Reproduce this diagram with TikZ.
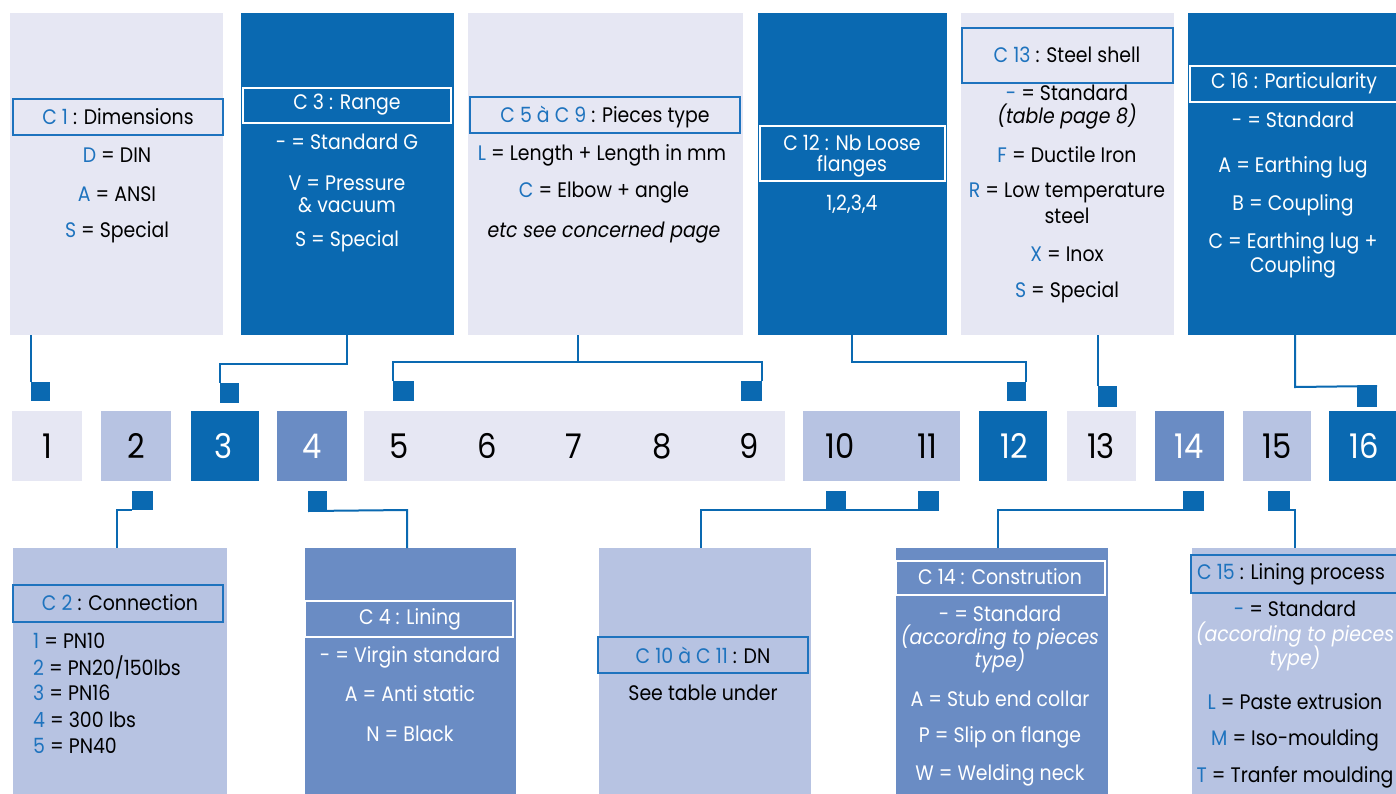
\documentclass[tikz,border=0pt]{standalone}
\usepackage{fontspec}
\setmainfont{Poppins}[FakeStretch=0.9]
\usetikzlibrary{calc}
\definecolor{lav}{HTML}{E6E7F3}
\definecolor{peri}{HTML}{B7C3E2}
\definecolor{mid}{HTML}{6A8CC4}
\definecolor{dark}{HTML}{0A69B1}
\definecolor{codeblue}{HTML}{1E73BE}
\newcommand{\cd}[1]{\textcolor{codeblue}{#1}}
\newcommand{\fs}{\fontsize{21}{23}\selectfont}
\newcommand{\fnum}{\fontsize{34}{36}\selectfont}
\tikzset{
  panel/.style={rectangle, inner sep=0pt, outer sep=0pt, anchor=north west, draw=none},
  ttl/.style={rectangle, inner sep=0pt, outer sep=0pt, anchor=north west, line width=2pt},
  tx/.style={inner sep=0pt, font=\fs, text=black},
  wtx/.style={inner sep=0pt, font=\fs, text=white},
  sq/.style={rectangle, fill=dark, inner sep=0pt, outer sep=0pt, anchor=north west},
  num/.style={inner sep=0pt, font=\fnum, text=black},
  wnum/.style={inner sep=0pt, font=\fnum, text=white},
  link/.style={draw=dark, line width=2pt},
}
\begin{document}
\begin{tikzpicture}[x=1pt,y=-1pt]
\useasboundingbox (0,0) rectangle (1396,793);
\clip (0,0) rectangle (1396,793);
\fill[white] (0,0) rectangle (1396,793);

% ---------- top panels ----------
\node[panel, fill=lav, minimum width=213, minimum height=322] (p1) at (10,13) {};
\node[ttl, draw=codeblue, minimum width=210, minimum height=36] (t1) at (13,99) {};
\node[tx] (t1x) at (118,117) {\cd{C 1} : Dimensions};
\node[tx] (p1a) at (117,155) {\cd{D} = DIN};
\node[tx] (p1b) at (117,194) {\cd{A} = ANSI};
\node[tx] (p1c) at (117,232) {\cd{S} = Special};

\node[panel, fill=dark, minimum width=213, minimum height=322] (p3) at (241,13) {};
\node[ttl, draw=white, minimum width=208, minimum height=35] (t3) at (243,88) {};
\node[wtx] (t3x) at (347,105) {C 3 : Range};
\node[wtx] (p3a) at (347,142) {- = Standard G};
\node[wtx] (p3b) at (347,183) {V = Pressure};
\node[wtx] (p3c) at (347,205) {\& vacuum};
\node[wtx] (p3d) at (347,241) {S = Special};

\node[panel, fill=lav, minimum width=275, minimum height=322] (p5) at (468,13) {};
\node[ttl, draw=codeblue, minimum width=270, minimum height=36] (t5) at (470,97) {};
\node[tx] (t5x) at (605,117) {\cd{C 5 à C 9} : Pieces type};
\node[tx] (p5a) at (602,155) {\cd{L} = Length + Length in mm};
\node[tx] (p5b) at (604,193) {\cd{C} = Elbow + angle};
\node[tx, font=\fs\itshape] (p5c) at (604,233) {etc see concerned page};

\node[panel, fill=dark, minimum width=189, minimum height=322] (p12) at (758,13) {};
\node[ttl, draw=white, minimum width=185, minimum height=55] (t12) at (760,126) {};
\node[wtx] (t12x) at (852,143) {C 12 : Nb Loose};
\node[wtx] (t12y) at (852,166) {flanges};
\node[wtx] (p12a) at (852,204) {1,2,3,4};

\node[panel, fill=lav, minimum width=213, minimum height=322] (p13) at (961,13) {};
\node[ttl, draw=codeblue, minimum width=211, minimum height=55] (t13) at (962,28) {};
\node[tx] (t13x) at (1067,55) {\cd{C 13} : Steel shell};
\node[tx] (p13a) at (1067,93) {\cd{-} = Standard};
\node[tx, font=\fs\itshape] (p13b) at (1067,117) {(table page 8)};
\node[tx] (p13c) at (1067,155) {\cd{F} = Ductile Iron};
\node[tx] (p13d) at (1067,193) {\cd{R} = Low temperature};
\node[tx] (p13e) at (1067,216) {steel};
\node[tx] (p13f) at (1067,254) {\cd{X} = Inox};
\node[tx] (p13g) at (1067,292) {\cd{S} = Special};

\node[panel, fill=dark, minimum width=215, minimum height=322] (p16) at (1188,13) {};
\node[ttl, draw=white, minimum width=215, minimum height=36] (t16) at (1190,66) {};
\node[wtx] (t16x) at (1294,83) {C 16 : Particularity};
\node[wtx] (p16a) at (1293,120) {- = Standard};
\node[wtx] (p16b) at (1293,167) {A = Earthing lug};
\node[wtx] (p16c) at (1293,205) {B = Coupling};
\node[wtx] (p16d) at (1293,243) {C = Earthing lug +};
\node[wtx] (p16e) at (1293,267) {Coupling};

% ---------- number row ----------
\node[panel, fill=lav,  minimum width=70,  minimum height=70] (b1)  at (12,411) {};
\node[panel, fill=peri, minimum width=70,  minimum height=70] (b2)  at (101,411) {};
\node[panel, fill=dark, minimum width=68,  minimum height=70] (b3)  at (191,411) {};
\node[panel, fill=mid,  minimum width=70,  minimum height=70] (b4)  at (277,411) {};
\node[panel, fill=lav,  minimum width=421, minimum height=70] (b5)  at (364,411) {};
\node[panel, fill=peri, minimum width=157, minimum height=70] (b10) at (803,411) {};
\node[panel, fill=dark, minimum width=68,  minimum height=70] (b12) at (979,411) {};
\node[panel, fill=lav,  minimum width=69,  minimum height=70] (b13) at (1067,411) {};
\node[panel, fill=mid,  minimum width=69,  minimum height=70] (b14) at (1155,411) {};
\node[panel, fill=peri, minimum width=68,  minimum height=70] (b15) at (1243,411) {};
\node[panel, fill=dark, minimum width=70,  minimum height=70] (b16) at (1329,411) {};

\node[num]  (n1)  at (47,446)   {1};
\node[num]  (n2)  at (136,446)  {2};
\node[wnum] (n3)  at (224,446)  {3};
\node[wnum] (n4)  at (312,446)  {4};
\node[num]  (n5)  at (399,446)  {5};
\node[num]  (n6)  at (487,446)  {6};
\node[num]  (n7)  at (574,446)  {7};
\node[num]  (n8)  at (662,446)  {8};
\node[num]  (n9)  at (749,446)  {9};
\node[num]  (n10) at (840,446)  {10};
\node[num]  (n11) at (927,446)  {11};
\node[wnum] (n12) at (1014,446) {12};
\node[num]  (n13) at (1101,446) {13};
\node[wnum] (n14) at (1189,446) {14};
\node[num]  (n15) at (1277,446) {15};
\node[wnum] (n16) at (1364,446) {16};

% ---------- squares ----------
\node[sq, minimum width=19, minimum height=19] (s1)  at (31,382) {};
\node[sq, minimum width=19, minimum height=20] (s3)  at (220,383) {};
\node[sq, minimum width=21, minimum height=20] (s5)  at (393,381) {};
\node[sq, minimum width=21, minimum height=20] (s9)  at (741,381) {};
\node[sq, minimum width=19, minimum height=19] (s12) at (1007,382) {};
\node[sq, minimum width=19, minimum height=21] (s13) at (1098,386) {};
\node[sq, minimum width=20, minimum height=21] (s16) at (1357,386) {};

\node[sq, minimum width=21, minimum height=19] (s2)  at (132,491) {};
\node[sq, minimum width=19, minimum height=20] (s4)  at (308,491) {};
\node[sq, minimum width=20, minimum height=19] (s10) at (826,491) {};
\node[sq, minimum width=21, minimum height=19] (s11) at (918,491) {};
\node[sq, minimum width=21, minimum height=19] (s14) at (1183,491) {};
\node[sq, minimum width=22, minimum height=19] (s15) at (1268,491) {};

% ---------- bottom panels ----------
\node[panel, fill=peri, minimum width=214, minimum height=260] (p2) at (13,548) {};
\node[ttl, draw=codeblue, minimum width=210, minimum height=37] (t2) at (13,585) {};
\node[tx] (t2x) at (120,603) {\cd{C 2} : Connection};
\node[tx, anchor=west] (p2a) at (33,641) {\cd{1} = PN10};
\node[tx, anchor=west] (p2b) at (33,667) {\cd{2} = PN20/150lbs};
\node[tx, anchor=west] (p2c) at (33,693) {\cd{3} = PN16};
\node[tx, anchor=west] (p2d) at (33,720) {\cd{4} = 300 lbs};
\node[tx, anchor=west] (p2e) at (33,746) {\cd{5} = PN40};

\node[panel, fill=mid, minimum width=211, minimum height=260] (p4) at (305,548) {};
\node[ttl, draw=white, minimum width=208, minimum height=36] (t4) at (305,601) {};
\node[wtx] (t4x) at (410,619) {C 4 : Lining};
\node[wtx] (p4a) at (410,657) {- = Virgin standard};
\node[wtx] (p4b) at (410,694) {A = Anti static};
\node[wtx] (p4c) at (410,734) {N = Black};

\node[panel, fill=peri, minimum width=212, minimum height=260] (p10) at (599,548) {};
\node[ttl, draw=codeblue, minimum width=210, minimum height=36] (t10) at (598,637) {};
\node[tx] (t10x) at (703,655) {\cd{C 10 à C 11} : DN};
\node[tx] (p10a) at (703,693) {See table under};

\node[panel, fill=mid, minimum width=212, minimum height=260] (p14) at (896,548) {};
\node[ttl, draw=white, minimum width=209, minimum height=34] (t14) at (896,561) {};
\node[wtx] (t14x) at (1000,577) {C 14 : Constrution};
\node[wtx] (p14a) at (1000,614) {- = Standard};
\node[wtx, font=\fs\itshape] (p14b) at (1000,638) {(according to pieces};
\node[wtx, font=\fs\itshape] (p14c) at (1000,660) {type)};
\node[wtx] (p14d) at (1000,699) {A = Stub end collar};
\node[wtx] (p14e) at (1000,737) {P = Slip on flange};
\node[wtx] (p14f) at (1000,775) {W = Welding neck};

\node[panel, fill=peri, minimum width=215, minimum height=260] (p15) at (1192,548) {};
\node[ttl, draw=codeblue, minimum width=215, minimum height=38] (t15) at (1191,555) {};
\node[tx, anchor=west] (t15x) at (1197,574) {\cd{C 15} : Lining process};
\node[tx] (p15a) at (1295,609) {\cd{-} = Standard};
\node[wtx, font=\fs\itshape] (p15b) at (1295,635) {(according to pieces};
\node[wtx, font=\fs\itshape] (p15c) at (1295,658) {type)};
\node[tx] (p15d) at (1295,702) {\cd{L} = Paste extrusion};
\node[tx] (p15e) at (1295,740) {\cd{M} = Iso-moulding};
\node[tx] (p15f) at (1295,777) {\cd{T} = Tranfer moulding};

% ---------- connectors ----------
\coordinate (j3)  at (347,364);
\coordinate (j5)  at (578,362);
\coordinate (j12) at (852,362);
\coordinate (j16) at (1295,387);
\coordinate (j2)  at (117,510);
\coordinate (j4)  at (407,510);
\coordinate (j10) at (701,510);
\coordinate (j14) at (998,510);
\coordinate (j15) at (1295,510);

\draw[link] (p1.south -| s1.west) -- (s1.north west);
\draw[link] (j3 |- p3.south) -- (j3) -| (s3.north west);
\draw[link] (j5 |- p5.south) -- (j5);
\draw[link] (s5.north west) -- (s5.north west |- j5) -- (s9.north east |- j5) -- (s9.north east);
\draw[link] (j12 |- p12.south) -- (j12) -| (s12.north east);
\draw[link] (p13.south -| s13.west) -- (s13.north west);
\draw[link] (j16 |- p16.south) -- (j16) -- (s16.north east);

\draw[link] (s2.south west) -- (j2) -- (j2 |- p2.north);
\draw[link] (s4.south west) -- (j4) -- (j4 |- p4.north);
\draw[link] (s11.south east) -- (j10) -- (j10 |- p10.north);
\draw[link] (s14.south east) -- (j14) -- (j14 |- p14.north);
\draw[link] (s15.south west) -- (j15) -- (j15 |- p15.north);
\end{tikzpicture}
\end{document}
